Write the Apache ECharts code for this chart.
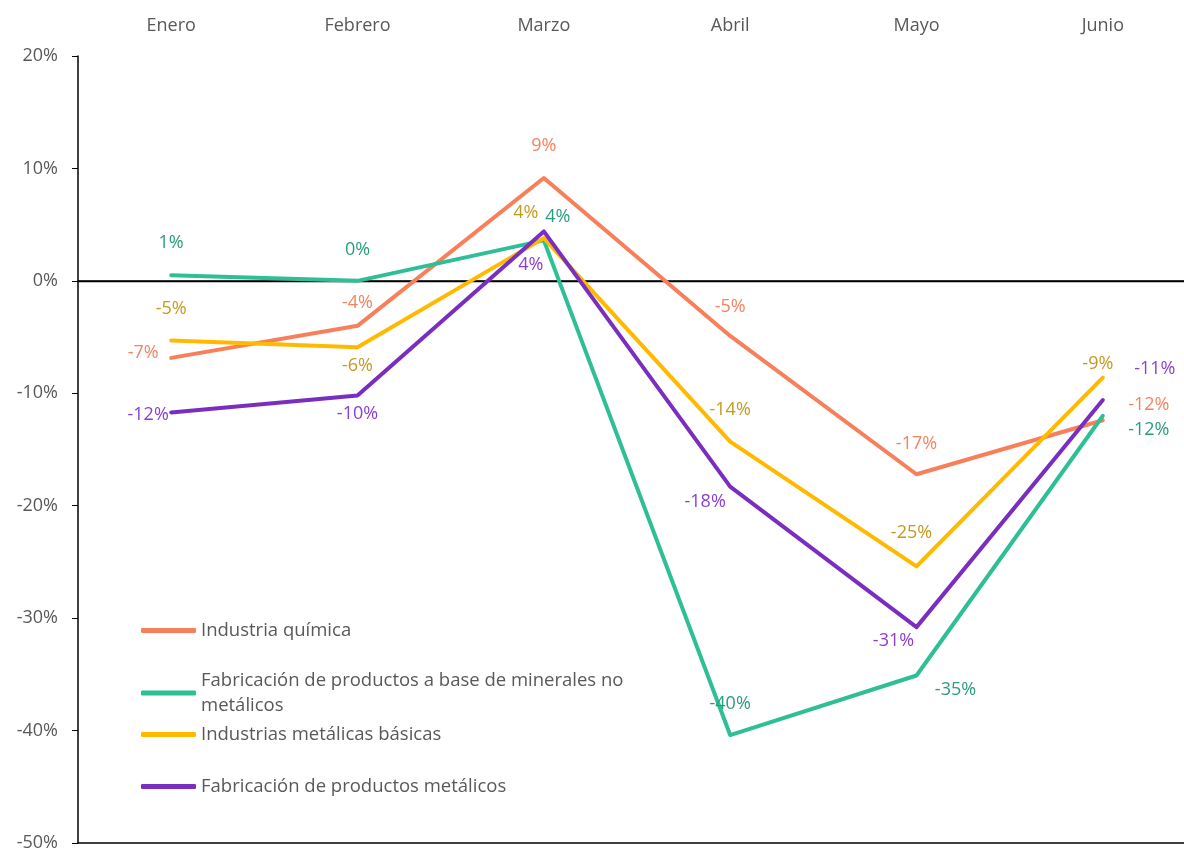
<!DOCTYPE html>
<html>
<head>
<meta charset="utf-8">
<script src="https://cdn.jsdelivr.net/npm/echarts@6/dist/echarts.min.js"></script>
<style>html,body{margin:0;padding:0;background:#fff;overflow:hidden;width:1184px;height:852px}#c{width:1196px;height:852px}</style>
</head>
<body>
<div id="c"></div>
<script>
const months = ['Enero', 'Febrero', 'Marzo', 'Abril', 'Mayo', 'Junio'];
const names = ['Industria química', 'Fabricación de productos a base de minerales no metálicos', 'Industrias metálicas básicas', 'Fabricación de productos metálicos'];
const quimica = [-6.85, -4.0, 9.15, -4.9, -17.2, -12.4];
const minerales = [0.5, 0.0, 3.6, -40.4, -35.1, -12.0];
const metalicasBasicas = [-5.3, -5.9, 3.8, -14.3, -25.4, -8.6];
const productosMetalicos = [-11.7, -10.2, 4.4, -18.3, -30.8, -10.6];
const yTicks = [-50, -40, -30, -20, -10, 0, 10, 20];

const seriesValues = [quimica, minerales, metalicasBasicas, productosMetalicos];
const lineColors = ['#F7805A', '#2EBF96', '#FFBA00', '#7A2EC0'];
const labelColors = ['#F4845F', '#2A9C7E', '#C49A1E', '#8A3FD2'];
const labelOffsets = [
  [[-28,-5],[0,-23],[0,-32],[0,-29],[0,-30],[46,-15]],
  [[0,-32],[0,-31],[14,-24],[0,-31],[39,14],[46,14]],
  [[0,-32],[0,19],[-18,-25],[0,-32],[-5,-34],[-5,-14]],
  [[-23,2],[0,18],[-13,33],[-25,15],[-23,14],[52,-31]]
];
const legendTops = [613, 663, 717, 769];
const FONT = 'Open Sans';

const series = seriesValues.map((vals, i) => ({
  name: names[i],
  type: 'line',
  data: vals.map((v, j) => ({
    value: v,
    label: { offset: labelOffsets[i][j] }
  })),
  symbol: 'circle',
  symbolSize: 2,
  showSymbol: true,
  z: 3 + i,
  lineStyle: { color: lineColors[i], width: 4, cap: 'round', join: 'round' },
  itemStyle: { color: lineColors[i] },
  label: {
    show: true,
    position: 'inside',
    align: 'center',
    verticalAlign: 'middle',
    color: labelColors[i],
    fontFamily: FONT,
    fontSize: 18,
    formatter: p => Math.round(p.value) + '%'
  },
  emphasis: { disabled: true },
  animation: false,
  markLine: i === 0 ? {
    silent: true,
    symbol: ['none', 'none'],
    label: { show: false },
    lineStyle: { color: '#000', width: 1.3, type: 'solid' },
    data: [{ yAxis: 0 }],
    z: 1
  } : undefined
}));

const legends = names.map((n, i) => ({
  data: [n],
  left: 136,
  top: legendTops[i],
  orient: 'vertical',
  icon: 'roundRect',
  itemWidth: 55,
  itemHeight: 5,
  selectedMode: false,
  textStyle: {
    fontFamily: FONT,
    fontSize: 18.5,
    color: '#595959',
    width: 460,
    overflow: 'break',
    lineHeight: 25
  }
}));

const chart = echarts.init(document.getElementById('c'), null, { renderer: 'canvas' });
chart.setOption({
  backgroundColor: '#fff',
  animation: false,
  grid: { left: 78, top: 56, right: 0, height: 787, containLabel: false },
  legend: legends,
  xAxis: [{
    type: 'category',
    data: months,
    position: 'top',
    boundaryGap: true,
    axisLine: { show: true, lineStyle: { color: '#000', width: 1.5 } },
    axisTick: { show: false },
    axisLabel: { color: '#595959', fontFamily: FONT, fontSize: 18, margin: 21 },
    splitLine: { show: false }
  }, {
    type: 'category',
    data: months,
    position: 'bottom',
    axisLine: { show: true, lineStyle: { color: '#000', width: 1.5 } },
    axisTick: { show: false },
    axisLabel: { show: false },
    splitLine: { show: false }
  }],
  yAxis: {
    type: 'value',
    min: yTicks[0],
    max: yTicks[yTicks.length - 1],
    interval: 10,
    axisLine: { show: true, lineStyle: { color: '#000', width: 1.5 } },
    axisTick: { show: true, inside: false, length: 6, lineStyle: { color: '#000' } },
    axisLabel: { color: '#595959', fontFamily: FONT, fontSize: 18, margin: 20, formatter: '{value}%' },
    splitLine: { show: false }
  },
  series: series
});
</script>
</body>
</html>
